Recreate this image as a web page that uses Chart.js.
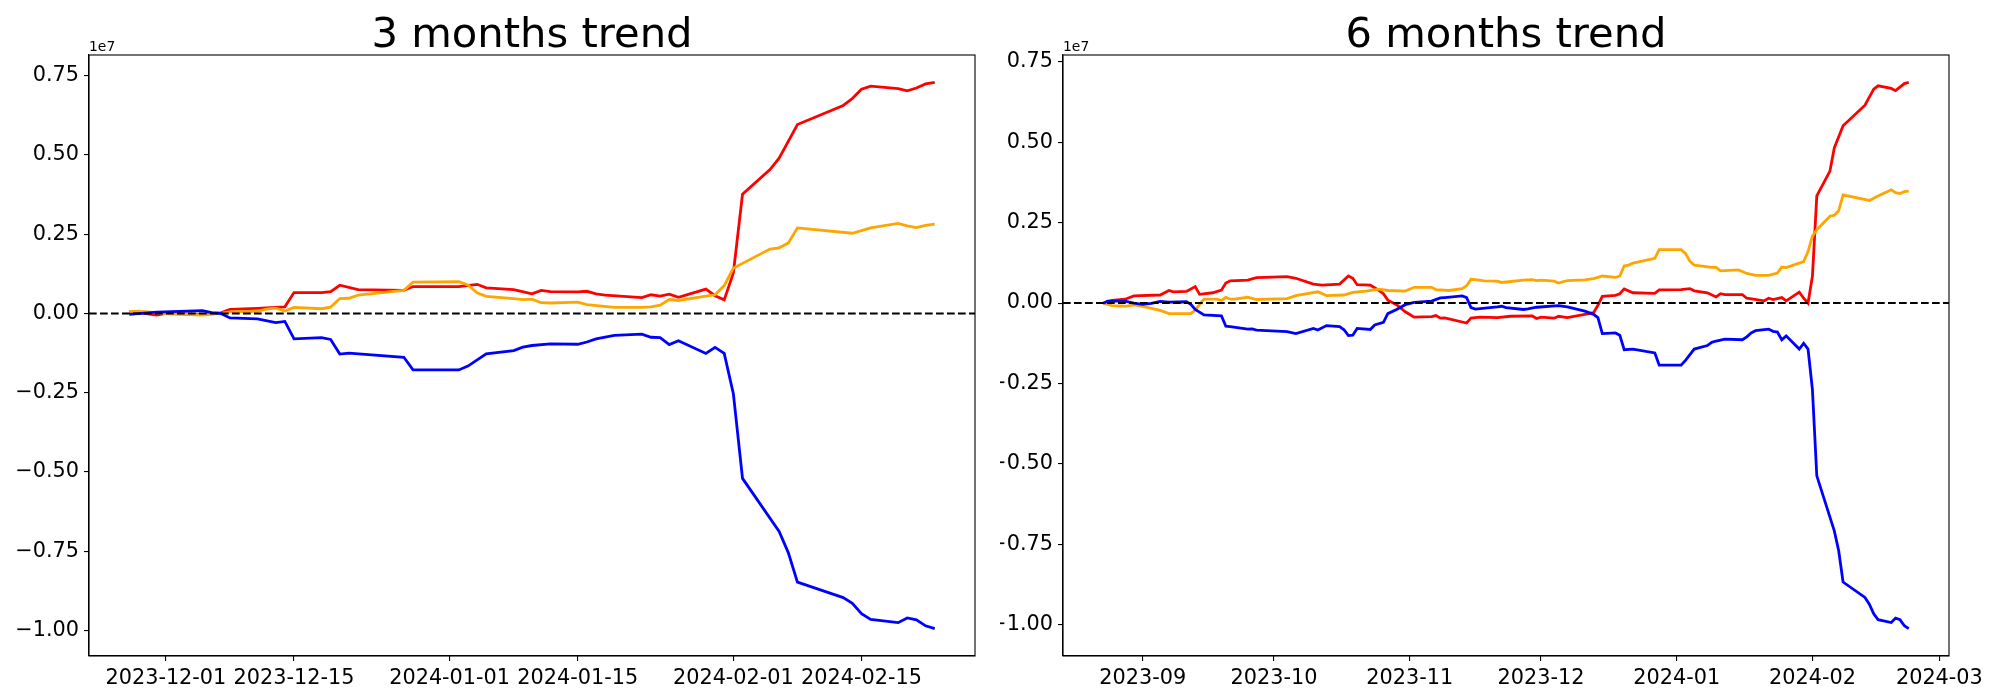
<!DOCTYPE html>
<html>
<head>
<meta charset="utf-8">
<script src="https://cdn.jsdelivr.net/npm/chart.js@4.4.1/dist/chart.umd.min.js"></script>
<style>
  html, body { margin: 0; padding: 0; background: #fff; }
  #page { position: relative; width: 2000px; height: 700px; }
  .box { position: absolute; top: 0; width: 1000px; height: 700px; }
</style>
</head>
<body>
<div id="page">
  <div class="box" style="left:0"><canvas id="c3"></canvas></div>
  <div class="box" style="left:1000px"><canvas id="c6"></canvas></div>
</div>
<script>
// values are read in units of 1e7 (the axis offset shown top-left)
const SCALE = 1e7;

// ---- 3 months ----
const red3 = [
  ['2023-11-27', 0.006], ['2023-11-28', 0.003], ['2023-11-30', -0.005], ['2023-12-01', 0.000],
  ['2023-12-05', -0.003], ['2023-12-07', 0.002], ['2023-12-08', 0.013], ['2023-12-11', 0.016],
  ['2023-12-13', 0.019], ['2023-12-14', 0.021], ['2023-12-15', 0.066], ['2023-12-18', 0.066],
  ['2023-12-19', 0.069], ['2023-12-20', 0.089], ['2023-12-22', 0.075], ['2023-12-27', 0.073],
  ['2023-12-28', 0.085], ['2024-01-02', 0.085], ['2024-01-04', 0.092], ['2024-01-05', 0.081],
  ['2024-01-08', 0.075], ['2024-01-10', 0.062], ['2024-01-11', 0.073], ['2024-01-12', 0.069],
  ['2024-01-15', 0.068], ['2024-01-16', 0.070], ['2024-01-17', 0.062], ['2024-01-18', 0.058],
  ['2024-01-22', 0.050], ['2024-01-23', 0.059], ['2024-01-24', 0.055], ['2024-01-25', 0.061],
  ['2024-01-26', 0.051], ['2024-01-29', 0.077], ['2024-01-30', 0.056], ['2024-01-31', 0.043],
  ['2024-02-01', 0.128], ['2024-02-02', 0.376], ['2024-02-05', 0.454], ['2024-02-06', 0.490],
  ['2024-02-07', 0.543], ['2024-02-08', 0.596], ['2024-02-13', 0.656], ['2024-02-14', 0.678],
  ['2024-02-15', 0.707], ['2024-02-16', 0.717], ['2024-02-19', 0.709], ['2024-02-20', 0.702],
  ['2024-02-21', 0.711], ['2024-02-22', 0.724], ['2024-02-23', 0.729]
];
const orange3 = [
  ['2023-11-27', 0.006], ['2023-11-28', 0.007], ['2023-12-01', 0.000], ['2023-12-05', -0.005],
  ['2023-12-07', 0.000], ['2023-12-08', 0.005], ['2023-12-11', 0.007], ['2023-12-12', 0.014],
  ['2023-12-13', 0.017], ['2023-12-14', 0.008], ['2023-12-15', 0.019], ['2023-12-18', 0.015],
  ['2023-12-19', 0.020], ['2023-12-20', 0.047], ['2023-12-21', 0.048], ['2023-12-22', 0.058],
  ['2023-12-27', 0.073], ['2023-12-28', 0.099], ['2024-01-02', 0.100], ['2024-01-03', 0.090],
  ['2024-01-04', 0.065], ['2024-01-05', 0.054], ['2024-01-08', 0.047], ['2024-01-09', 0.044],
  ['2024-01-10', 0.045], ['2024-01-11', 0.034], ['2024-01-12', 0.033], ['2024-01-15', 0.036],
  ['2024-01-16', 0.028], ['2024-01-19', 0.019], ['2024-01-22', 0.019], ['2024-01-23', 0.021],
  ['2024-01-24', 0.026], ['2024-01-25', 0.044], ['2024-01-26', 0.041], ['2024-01-29', 0.055],
  ['2024-01-30', 0.059], ['2024-01-31', 0.088], ['2024-02-01', 0.143], ['2024-02-02', 0.158],
  ['2024-02-05', 0.203], ['2024-02-06', 0.207], ['2024-02-07', 0.222], ['2024-02-08', 0.270],
  ['2024-02-14', 0.253], ['2024-02-16', 0.270], ['2024-02-19', 0.284], ['2024-02-20', 0.276],
  ['2024-02-21', 0.271], ['2024-02-22', 0.278], ['2024-02-23', 0.282]
];
const blue3 = [
  ['2023-11-27', -0.003], ['2023-11-30', 0.004], ['2023-12-05', 0.009], ['2023-12-06', 0.003],
  ['2023-12-07', 0.000], ['2023-12-08', -0.014], ['2023-12-11', -0.017], ['2023-12-13', -0.029],
  ['2023-12-14', -0.025], ['2023-12-15', -0.080], ['2023-12-18', -0.076], ['2023-12-19', -0.082],
  ['2023-12-20', -0.128], ['2023-12-21', -0.125], ['2023-12-27', -0.138], ['2023-12-28', -0.178],
  ['2024-01-02', -0.178], ['2024-01-03', -0.166], ['2024-01-05', -0.127], ['2024-01-08', -0.117],
  ['2024-01-09', -0.106], ['2024-01-10', -0.101], ['2024-01-12', -0.096], ['2024-01-15', -0.097],
  ['2024-01-16', -0.090], ['2024-01-17', -0.080], ['2024-01-19', -0.069], ['2024-01-22', -0.065],
  ['2024-01-23', -0.075], ['2024-01-24', -0.076], ['2024-01-25', -0.098], ['2024-01-26', -0.086],
  ['2024-01-29', -0.126], ['2024-01-30', -0.107], ['2024-01-31', -0.126], ['2024-02-01', -0.253],
  ['2024-02-02', -0.520], ['2024-02-06', -0.687], ['2024-02-07', -0.754], ['2024-02-08', -0.847],
  ['2024-02-13', -0.896], ['2024-02-14', -0.914], ['2024-02-15', -0.947], ['2024-02-16', -0.965],
  ['2024-02-19', -0.975], ['2024-02-20', -0.960], ['2024-02-21', -0.966], ['2024-02-22', -0.985],
  ['2024-02-23', -0.994]
];

// ---- 6 months ----
const red6 = [
  ['2023-08-23', 0.000], ['2023-08-25', 0.008], ['2023-08-28', 0.012], ['2023-08-30', 0.022],
  ['2023-09-05', 0.025], ['2023-09-07', 0.039], ['2023-09-08', 0.035], ['2023-09-11', 0.036],
  ['2023-09-13', 0.051], ['2023-09-14', 0.027], ['2023-09-17', 0.032], ['2023-09-19', 0.040],
  ['2023-09-20', 0.062], ['2023-09-21', 0.069], ['2023-09-25', 0.071], ['2023-09-27', 0.079],
  ['2023-10-04', 0.082], ['2023-10-06', 0.077], ['2023-10-10', 0.059], ['2023-10-12', 0.056],
  ['2023-10-16', 0.059], ['2023-10-18', 0.084], ['2023-10-19', 0.077], ['2023-10-20', 0.057],
  ['2023-10-23', 0.056], ['2023-10-25', 0.039], ['2023-10-26', 0.029], ['2023-10-27', 0.009],
  ['2023-10-29', -0.005], ['2023-10-31', -0.027], ['2023-11-02', -0.044], ['2023-11-06', -0.042],
  ['2023-11-07', -0.039], ['2023-11-08', -0.047], ['2023-11-09', -0.046], ['2023-11-14', -0.062],
  ['2023-11-15', -0.047], ['2023-11-17', -0.044], ['2023-11-21', -0.045], ['2023-11-24', -0.041],
  ['2023-11-29', -0.040], ['2023-11-30', -0.048], ['2023-12-01', -0.044], ['2023-12-04', -0.047],
  ['2023-12-05', -0.041], ['2023-12-07', -0.045], ['2023-12-11', -0.035], ['2023-12-13', -0.030],
  ['2023-12-14', -0.007], ['2023-12-15', 0.021], ['2023-12-18', 0.024], ['2023-12-19', 0.029],
  ['2023-12-20', 0.044], ['2023-12-22', 0.032], ['2023-12-27', 0.030], ['2023-12-28', 0.041],
  ['2024-01-02', 0.042], ['2024-01-04', 0.045], ['2024-01-05', 0.038], ['2024-01-08', 0.032],
  ['2024-01-10', 0.019], ['2024-01-11', 0.029], ['2024-01-12', 0.026], ['2024-01-16', 0.026],
  ['2024-01-17', 0.015], ['2024-01-21', 0.007], ['2024-01-22', 0.015], ['2024-01-23', 0.011],
  ['2024-01-25', 0.017], ['2024-01-26', 0.007], ['2024-01-29', 0.034], ['2024-01-30', 0.015],
  ['2024-01-31', 0.000], ['2024-02-01', 0.083], ['2024-02-02', 0.333], ['2024-02-05', 0.410],
  ['2024-02-06', 0.482], ['2024-02-08', 0.551], ['2024-02-13', 0.615], ['2024-02-15', 0.665],
  ['2024-02-16', 0.675], ['2024-02-19', 0.667], ['2024-02-20', 0.660], ['2024-02-22', 0.682],
  ['2024-02-23', 0.686]
];
const orange6 = [
  ['2023-08-23', 0.000], ['2023-08-25', -0.008], ['2023-08-28', -0.010], ['2023-08-30', -0.006],
  ['2023-09-01', -0.010], ['2023-09-05', -0.023], ['2023-09-07', -0.033], ['2023-09-12', -0.033],
  ['2023-09-13', -0.022], ['2023-09-15', 0.012], ['2023-09-18', 0.012], ['2023-09-19', 0.008],
  ['2023-09-20', 0.018], ['2023-09-21', 0.012], ['2023-09-22', 0.012], ['2023-09-25', 0.018],
  ['2023-09-27', 0.011], ['2023-10-04', 0.014], ['2023-10-06', 0.023], ['2023-10-11', 0.035],
  ['2023-10-13', 0.023], ['2023-10-17', 0.025], ['2023-10-19', 0.033], ['2023-10-22', 0.037],
  ['2023-10-25', 0.043], ['2023-10-27', 0.039], ['2023-10-31', 0.037], ['2023-11-02', 0.049],
  ['2023-11-06', 0.049], ['2023-11-07', 0.042], ['2023-11-10', 0.039], ['2023-11-13', 0.045],
  ['2023-11-14', 0.054], ['2023-11-15', 0.074], ['2023-11-16', 0.073], ['2023-11-18', 0.069],
  ['2023-11-21', 0.068], ['2023-11-22', 0.064], ['2023-11-27', 0.071], ['2023-11-29', 0.073],
  ['2023-11-30', 0.070], ['2023-12-01', 0.071], ['2023-12-04', 0.068], ['2023-12-05', 0.062],
  ['2023-12-07', 0.070], ['2023-12-11', 0.072], ['2023-12-13', 0.076], ['2023-12-14', 0.080],
  ['2023-12-15', 0.084], ['2023-12-18', 0.080], ['2023-12-19', 0.084], ['2023-12-20', 0.115],
  ['2023-12-21', 0.118], ['2023-12-22', 0.124], ['2023-12-27', 0.139], ['2023-12-28', 0.166],
  ['2024-01-02', 0.166], ['2024-01-03', 0.154], ['2024-01-04', 0.130], ['2024-01-05', 0.118],
  ['2024-01-09', 0.111], ['2024-01-10', 0.111], ['2024-01-11', 0.100], ['2024-01-15', 0.103],
  ['2024-01-16', 0.098], ['2024-01-17', 0.092], ['2024-01-19', 0.086], ['2024-01-22', 0.086],
  ['2024-01-24', 0.093], ['2024-01-25', 0.112], ['2024-01-26', 0.110], ['2024-01-30', 0.129],
  ['2024-01-31', 0.160], ['2024-02-01', 0.208], ['2024-02-02', 0.228], ['2024-02-05', 0.270],
  ['2024-02-06', 0.273], ['2024-02-07', 0.287], ['2024-02-08', 0.336], ['2024-02-14', 0.319],
  ['2024-02-16', 0.333], ['2024-02-19', 0.352], ['2024-02-20', 0.343], ['2024-02-21', 0.340],
  ['2024-02-22', 0.346], ['2024-02-23', 0.348]
];
const blue6 = [
  ['2023-08-23', -0.001], ['2023-08-24', 0.006], ['2023-08-28', 0.006], ['2023-08-30', 0.000],
  ['2023-09-01', -0.004], ['2023-09-03', -0.001], ['2023-09-05', 0.005], ['2023-09-07', 0.003],
  ['2023-09-11', 0.004], ['2023-09-12', -0.004], ['2023-09-13', -0.020], ['2023-09-15', -0.037],
  ['2023-09-19', -0.040], ['2023-09-20', -0.072], ['2023-09-21', -0.073], ['2023-09-25', -0.081],
  ['2023-09-26', -0.080], ['2023-09-27', -0.084], ['2023-10-04', -0.089], ['2023-10-06', -0.095],
  ['2023-10-10', -0.079], ['2023-10-11', -0.084], ['2023-10-13', -0.070], ['2023-10-16', -0.073],
  ['2023-10-17', -0.083], ['2023-10-18', -0.101], ['2023-10-19', -0.100], ['2023-10-20', -0.079],
  ['2023-10-23', -0.082], ['2023-10-24', -0.068], ['2023-10-26', -0.060], ['2023-10-27', -0.033],
  ['2023-10-29', -0.020], ['2023-10-31', -0.005], ['2023-11-02', 0.002], ['2023-11-06', 0.006],
  ['2023-11-08', 0.016], ['2023-11-09', 0.017], ['2023-11-13', 0.022], ['2023-11-14', 0.017],
  ['2023-11-15', -0.014], ['2023-11-16', -0.019], ['2023-11-21', -0.012], ['2023-11-22', -0.010],
  ['2023-11-23', -0.014], ['2023-11-27', -0.020], ['2023-11-28', -0.018], ['2023-11-30', -0.013],
  ['2023-12-05', -0.008], ['2023-12-07', -0.012], ['2023-12-11', -0.025], ['2023-12-13', -0.035],
  ['2023-12-14', -0.045], ['2023-12-15', -0.095], ['2023-12-18', -0.093], ['2023-12-19', -0.100],
  ['2023-12-20', -0.145], ['2023-12-22', -0.143], ['2023-12-27', -0.155], ['2023-12-28', -0.193],
  ['2024-01-02', -0.193], ['2024-01-03', -0.178], ['2024-01-05', -0.143], ['2024-01-08', -0.132],
  ['2024-01-09', -0.122], ['2024-01-10', -0.118], ['2024-01-12', -0.112], ['2024-01-16', -0.114],
  ['2024-01-17', -0.105], ['2024-01-18', -0.093], ['2024-01-19', -0.086], ['2024-01-22', -0.081],
  ['2024-01-23', -0.088], ['2024-01-24', -0.090], ['2024-01-25', -0.114], ['2024-01-26', -0.102],
  ['2024-01-29', -0.143], ['2024-01-30', -0.125], ['2024-01-31', -0.143], ['2024-02-01', -0.269],
  ['2024-02-02', -0.537], ['2024-02-06', -0.708], ['2024-02-07', -0.770], ['2024-02-08', -0.867],
  ['2024-02-13', -0.915], ['2024-02-14', -0.936], ['2024-02-15', -0.966], ['2024-02-16', -0.984],
  ['2024-02-19', -0.993], ['2024-02-20', -0.979], ['2024-02-21', -0.984], ['2024-02-22', -1.003],
  ['2024-02-23', -1.012]
];

// tick labels
const xTicks3 = ['2023-12-01', '2023-12-15', '2024-01-01', '2024-01-15', '2024-02-01', '2024-02-15'];
const xTicks6 = ['2023-09', '2023-10', '2023-11', '2023-12', '2024-01', '2024-02', '2024-03'];
const yTicks = [-1.0, -0.75, -0.5, -0.25, 0, 0.25, 0.5, 0.75];

const FONT = 'DejaVu Sans';

function toPoints(arr) {
    return arr.map(([d, v]) => ({ x: Date.parse(d), y: v * SCALE }));
}

// matplotlib style 5% margins around the data
function bounds(series, key) {
    const all = series.flat().map(p => p[key]);
    const lo = Math.min(...all), hi = Math.max(...all);
    const pad = (hi - lo) * 0.05;
    return [lo - pad, hi + pad];
}

// title, 1e7 offset label and the full box around the plot area
const framePlugin = {
    id: 'frame',
    afterDraw(chart, args, opts) {
        const { ctx, chartArea: a } = chart;
        ctx.save();
        ctx.strokeStyle = '#000';
        ctx.lineWidth = 1.1;
        ctx.strokeRect(a.left, a.top, a.right - a.left, a.bottom - a.top);
        ctx.fillStyle = '#000';
        ctx.textBaseline = 'alphabetic';
        ctx.textAlign = 'center';
        ctx.font = `41.7px "${FONT}"`;
        ctx.fillText(opts.title, (a.left + a.right) / 2, a.top - 8);
        ctx.textAlign = 'left';
        ctx.font = `13.9px "${FONT}"`;
        ctx.fillText('1e7', a.left, a.top - 4.5);
        ctx.restore();
    }
};

function lineSet(label, data, color) {
    return {
        label: label,
        data: data,
        borderColor: color,
        borderWidth: 2.8,
        pointRadius: 0,
        tension: 0,
        fill: false
    };
}

function makeChart(canvasId, opt) {
    const ctx = document.getElementById(canvasId);
    const pts = {
        red: toPoints(opt.red),
        orange: toPoints(opt.orange),
        blue: toPoints(opt.blue)
    };
    const series = [pts.red, pts.orange, pts.blue];
    const [xMin, xMax] = bounds(series, 'x');
    const [yMin, yMax] = bounds(series, 'y');

    return new Chart(ctx, {
        type: 'line',
        data: {
            datasets: [
                {
                    label: 'zero',
                    data: [{ x: xMin, y: 0 }, { x: xMax, y: 0 }],
                    borderColor: '#000',
                    borderWidth: 2.1,
                    borderDash: [7.7, 3.3],
                    pointRadius: 0
                },
                lineSet('blue', pts.blue, '#0000ff'),
                lineSet('orange', pts.orange, '#ffa500'),
                lineSet('red', pts.red, '#ff0000')
            ]
        },
        options: {
            responsive: true,
            maintainAspectRatio: false,
            animation: false,
            devicePixelRatio: 1,
            layout: { padding: { top: 55, right: opt.padRight, left: 0, bottom: 0 } },
            plugins: {
                legend: { display: false },
                tooltip: { enabled: false },
                frame: { title: opt.title }
            },
            scales: {
                x: {
                    type: 'linear',
                    min: xMin,
                    max: xMax,
                    afterFit: s => { s.height = 44; },
                    afterBuildTicks: s => {
                        s.ticks = opt.xTicks.map(t => ({ value: Date.parse(t.length === 7 ? t + '-01' : t) }));
                    },
                    ticks: {
                        autoSkip: false,
                        maxRotation: 0,
                        padding: 5,
                        color: '#000',
                        font: { family: FONT, size: 20.8 },
                        callback: v => new Date(v).toISOString().slice(0, opt.xTicks[0].length)
                    },
                    grid: { drawOnChartArea: false, drawTicks: true, tickLength: 5, color: '#000', lineWidth: 1.1 },
                    border: { display: true, color: '#000', width: 1.1 }
                },
                y: {
                    type: 'linear',
                    min: yMin,
                    max: yMax,
                    afterFit: s => { s.width = opt.yWidth; },
                    afterBuildTicks: s => {
                        s.ticks = yTicks.map(t => ({ value: t * SCALE }));
                    },
                    ticks: {
                        padding: 5,
                        color: '#000',
                        font: { family: FONT, size: 20.8 },
                        callback: v => (v / SCALE).toFixed(2).replace('-', '\u2212')
                    },
                    grid: { drawOnChartArea: false, drawTicks: true, tickLength: 5, color: '#000', lineWidth: 1.1 },
                    border: { display: true, color: '#000', width: 1.1 }
                }
            }
        },
        plugins: [framePlugin]
    });
}

makeChart('c3', {
    title: '3 months trend',
    red: red3, orange: orange3, blue: blue3,
    xTicks: xTicks3,
    yWidth: 89, padRight: 25
});

makeChart('c6', {
    title: '6 months trend',
    red: red6, orange: orange6, blue: blue6,
    xTicks: xTicks6,
    yWidth: 63, padRight: 51
});
</script>
</body>
</html>
